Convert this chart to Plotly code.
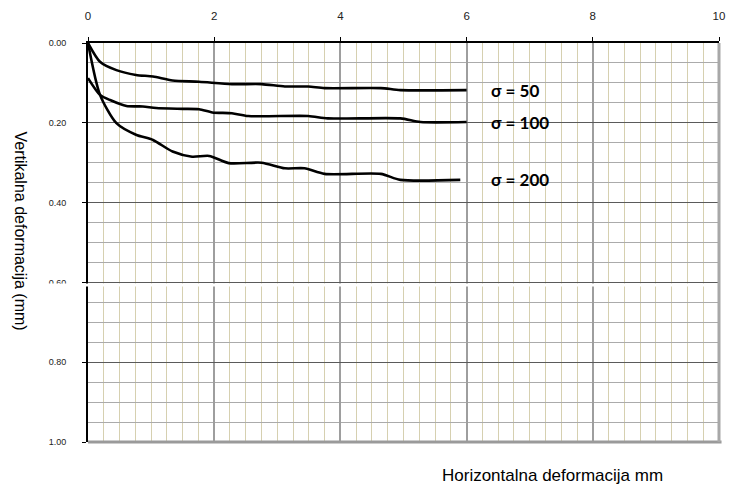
import plotly.graph_objects as go

# Data
x50 = [0, 0.19, 0.45, 0.76, 1.03, 1.34, 1.76, 2.28, 2.75, 3.12, 3.49, 3.75, 4.64, 4.95, 6.0]
y50 = [0, 0.047, 0.068, 0.080, 0.084, 0.094, 0.097, 0.103, 0.103, 0.109, 0.109, 0.113, 0.113, 0.118, 0.118]

x100 = [0, 0.19, 0.35, 0.61, 0.87, 1.08, 1.5, 1.76, 1.97, 2.28, 2.54, 3.49, 3.8, 4.95, 5.27, 6.0]
y100 = [0.088, 0.130, 0.143, 0.158, 0.159, 0.163, 0.165, 0.166, 0.174, 0.176, 0.183, 0.183, 0.189, 0.189, 0.198, 0.198]

x200 = [0, 0.19, 0.45, 0.76, 1.03, 1.34, 1.65, 1.92, 2.23, 2.75, 3.12, 3.43, 3.75, 4.64, 4.95, 5.9]
y200 = [0, 0.13, 0.201, 0.230, 0.243, 0.272, 0.285, 0.283, 0.301, 0.300, 0.314, 0.314, 0.328, 0.328, 0.343, 0.343]

series = [("σ = 50", x50, y50), ("σ = 100", x100, y100), ("σ = 200", x200, y200)]
label_x = 6.36
x_ticks = [0, 2, 4, 6, 8, 10]
y_ticks = [0.0, 0.2, 0.4, 0.6, 0.8, 1.0]

fig = go.Figure()
for name, xs, ys in series:
    fig.add_trace(go.Scatter(x=xs, y=ys, mode="lines", name=name,
                             line=dict(color="black", width=2.6, shape="spline", smoothing=0.7),
                             showlegend=False, hoverinfo="skip"))
    fig.add_annotation(x=label_x, y=ys[-1], text="<b>%s</b>" % name, showarrow=False,
                       xanchor="left", yanchor="middle",
                       font=dict(family="Lato", size=17, color="black"))

fig.update_xaxes(range=[0, 10], side="top", tickvals=x_ticks, ticktext=[str(v) for v in x_ticks],
                 showgrid=True, gridcolor="#9e9e9e", gridwidth=1.5,
                 minor=dict(dtick=0.25, showgrid=True, gridcolor="#d6d0b0", gridwidth=1.2),
                 showline=True, linecolor="black", linewidth=1.5, mirror=False,
                 ticks="outside", ticklen=4, tickcolor="black", ticklabelstandoff=13,
                 tickfont=dict(family="Liberation Sans", size=11.5, color="#222222"),
                 zeroline=False, fixedrange=True)
fig.update_yaxes(range=[1, 0], tickvals=y_ticks, ticktext=["%.2f" % v for v in y_ticks],
                 showgrid=True, gridcolor="#5a5a5a", gridwidth=1,
                 minor=dict(dtick=0.05, showgrid=True, gridcolor="#ababab", gridwidth=1),
                 showline=True, linecolor="black", linewidth=2, mirror=False,
                 ticks="outside", ticklen=4, tickcolor="black", ticklabelstandoff=14,
                 tickfont=dict(family="Liberation Sans", size=9, color="#222222"),
                 zeroline=False, fixedrange=True)

# darker major vertical grid lines at 4 and 8
for xv in [4, 8]:
    fig.add_shape(type="line", xref="x", yref="paper", x0=xv, x1=xv, y0=0, y1=1,
                  line=dict(color="#555555", width=1), layer="below")
# bottom and right gray frame
fig.add_shape(type="line", xref="paper", yref="paper", x0=0, x1=1.004, y0=0, y1=0,
              line=dict(color="#9a9a9a", width=3), layer="above")
fig.add_shape(type="line", xref="paper", yref="paper", x0=1, x1=1, y0=0, y1=1,
              line=dict(color="#a8a8a8", width=3), layer="above")
# white break just below 0.60
fig.add_shape(type="rect", xref="paper", yref="paper", x0=-0.08, x1=0.995, y0=0.390, y1=0.3975,
              line=dict(width=0), fillcolor="white", layer="above")

fig.add_annotation(text="Vertikalna deformacija (mm)", xref="paper", yref="paper",
                   x=-0.107, y=0.529, textangle=90, showarrow=False,
                   xanchor="center", yanchor="middle",
                   font=dict(family="Liberation Sans", size=16, color="black"))
fig.add_annotation(text="Horizontalna deformacija mm", xref="paper", yref="paper",
                   x=0.736, y=-0.085, showarrow=False, xanchor="center", yanchor="middle",
                   font=dict(family="Liberation Sans", size=17, color="black"))

fig.update_layout(width=732, height=492, margin=dict(l=88, r=7, t=43, b=50),
                  paper_bgcolor="white", plot_bgcolor="white")
fig.write_html("out.html")
